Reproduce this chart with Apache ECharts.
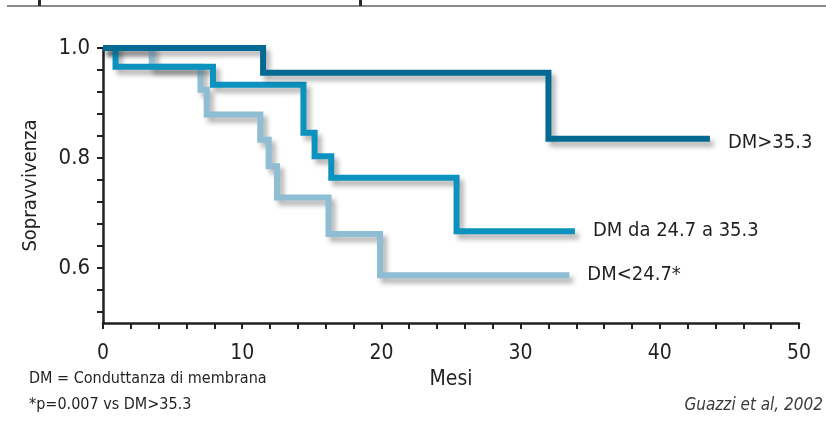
<!DOCTYPE html>
<html><head><meta charset="utf-8">
<script src="https://cdn.jsdelivr.net/npm/echarts@6/dist/echarts.min.js"></script>
<style>html,body{margin:0;padding:0;background:#fff}#c{width:826px;height:430px}</style>
</head><body><div id="c"></div>
<script>
// Kaplan-Meier survival curves: [months, survival]
const seriesNames = ['DM>35.3', 'DM da 24.7 a 35.3', 'DM<24.7*'];
const dmHigh = [[0, 1], [11.5, 0.955], [32.0, 0.835], [43.6, 0.835]];
const dmMid = [[0, 1], [0.9, 0.966], [7.9, 0.933], [14.4, 0.846], [15.2, 0.803], [16.4, 0.764], [25.4, 0.667], [33.9, 0.667]];
const dmLow = [[0, 1], [3.5, 0.966], [7.0, 0.924], [7.45, 0.879], [11.3, 0.833], [11.9, 0.785], [12.5, 0.728], [16.2, 0.662], [19.9, 0.587], [33.5, 0.587]];
const xTickValues = [0, 2, 4, 6, 8, 10, 12, 14, 16, 18, 20, 22, 24, 26, 28, 30, 32, 34, 36, 38, 40, 42, 44, 46, 48, 50];
const xLabelValues = [0, 10, 20, 30, 40, 50];
const yTickValues = [0.52, 0.56, 0.6, 0.64, 0.68, 0.72, 0.76, 0.8, 0.84, 0.88, 0.92, 0.96, 1.0];
const yLabelValues = [0.6, 0.8, 1.0];
const xName = 'Mesi';
const yName = 'Sopravvivenza';
const noteLines = ['DM = Conduttanza di membrana', '*p=0.007 vs DM>35.3'];
const sourceText = 'Guazzi et al, 2002';

const FONT = "'Liberation Sans Narrow', 'Arial Narrow', 'DejaVu Sans Condensed', sans-serif";
const INK = '#231f20';
const colors = ['#046a91', '#0b92bf', '#8fbdd4'];
const dataSets = [dmHigh, dmMid, dmLow];

const chart = echarts.init(document.getElementById('c'), null, {renderer: 'canvas'});

const series = dataSets.map((d, i) => ({
  name: seriesNames[i],
  type: 'line',
  step: 'end',
  data: d,
  symbol: 'none',
  silent: true,
  z: 10 - i,
  lineStyle: {
    color: colors[i], width: 6, join: 'miter', cap: 'butt',
    shadowColor: 'rgba(0,0,0,0.3)', shadowBlur: 5, shadowOffsetX: 4, shadowOffsetY: 5
  },
  endLabel: {
    show: true,
    formatter: () => seriesNames[i],
    distance: 18,
    offset: i === 0 ? [0, 4] : [0, 0],
    fontFamily: FONT, fontSize: 20, color: INK
  }
}));

chart.setOption({
  animation: false,
  backgroundColor: '#fff',
  grid: {left: 103, right: 27, top: 48, bottom: 107},
  xAxis: {
    type: 'value', min: 0, max: 50,
    name: xName, nameLocation: 'middle', nameGap: 46,
    nameTextStyle: {fontFamily: FONT, fontSize: 21, color: INK},
    axisLine: {show: true, lineStyle: {color: INK, width: 2.5}},
    axisTick: {show: true, customValues: xTickValues, length: 6, lineStyle: {color: INK, width: 2}},
    axisLabel: {customValues: xLabelValues, margin: 20, fontFamily: FONT, fontSize: 21, color: INK},
    splitLine: {show: false}
  },
  yAxis: {
    type: 'value', min: 0.5, max: 1.0,
    name: yName, nameLocation: 'middle', nameGap: 62, nameRotate: 90,
    nameTextStyle: {fontFamily: FONT, fontSize: 20, color: INK},
    axisLine: {show: true, lineStyle: {color: INK, width: 2.5}},
    axisTick: {show: true, customValues: yTickValues, length: 6, lineStyle: {color: INK, width: 2}},
    axisLabel: {customValues: yLabelValues, margin: 13, fontFamily: FONT, fontSize: 22, color: INK,
      formatter: v => v.toFixed(1)},
    splitLine: {show: false}
  },
  graphic: [
    {type: 'line', shape: {x1: 7, y1: 6, x2: 826, y2: 6}, style: {stroke: '#8a8a8a', lineWidth: 2}},
    {type: 'rect', shape: {x: 38, y: 0, width: 3, height: 6}, style: {fill: '#2a2a2a'}},
    {type: 'rect', shape: {x: 359, y: 0, width: 3, height: 6}, style: {fill: '#2a2a2a'}},
    {type: 'text', left: 29, top: 371, style: {text: noteLines[0], font: '16px ' + FONT, fill: INK}},
    {type: 'text', left: 29, top: 397, style: {text: noteLines[1], font: '16px ' + FONT, fill: INK}},
    {type: 'text', right: 3, top: 397, style: {text: sourceText, font: 'italic 17px ' + FONT, fill: '#3a3a3a'}}
  ],
  series: series
});
</script></body></html>
